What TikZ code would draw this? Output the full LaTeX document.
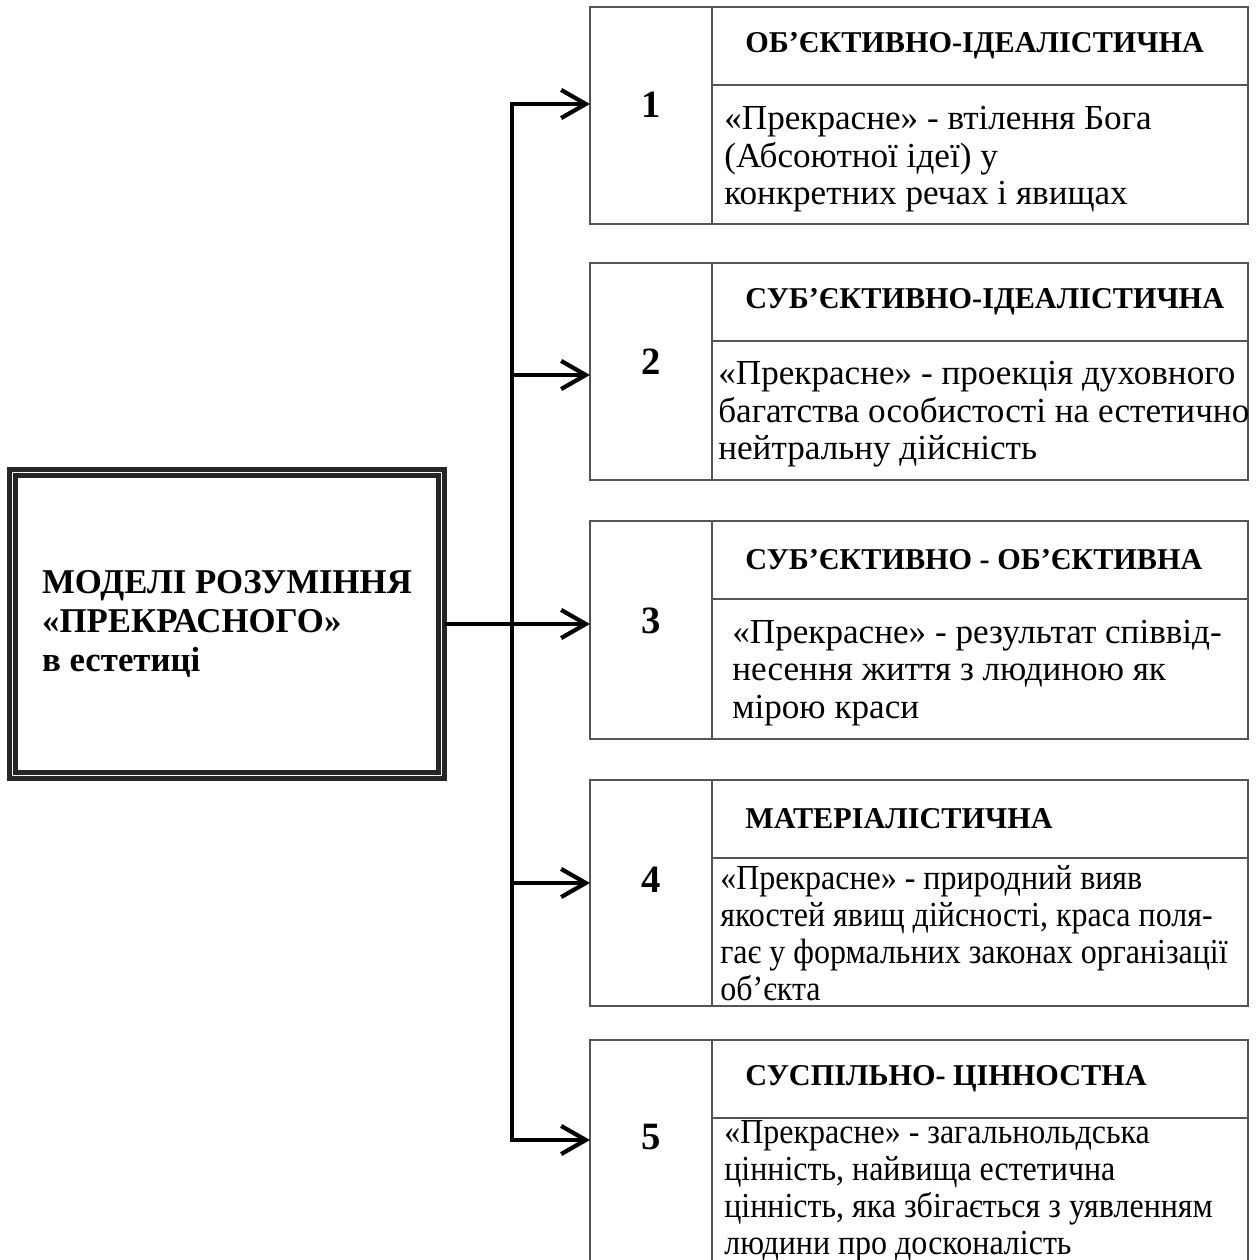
\documentclass[tikz,border=0pt]{standalone}
\usepackage{fontspec}
\setmainfont{Liberation Serif}
\usepackage{tikz}
\usetikzlibrary{arrows.meta,positioning}
\definecolor{boxgray}{RGB}{85,85,85}
\tikzset{
    cell/.style={draw=boxgray,line width=1.1pt,rectangle,inner sep=0pt,outer sep=0pt,anchor=north west},
    numcell/.style={cell,minimum width=2.44cm},
    headcell/.style={cell,minimum width=10.72cm,minimum height=1.56cm},
    bodycell/.style={cell,minimum width=10.72cm},
    numtext/.style={font=\bfseries\fontsize{22}{24}\selectfont,inner sep=0pt},
    headtext/.style={anchor=west,inner sep=0pt,font=\bfseries\fontsize{17.2}{20}\selectfont},
    bodytext/.style={anchor=west,inner sep=0pt,align=left,font=\fontsize{20}{21.3}\selectfont},
    narrowtext/.style={bodytext,font=\fontsize{20}{21}\selectfont\addfontfeatures{FakeStretch=0.91}},
    mainbox/.style={draw=black!85,line width=2.6pt,double=white,double distance=1pt,rectangle,
        minimum width=8.58cm,minimum height=6.06cm,align=left,
        font=\bfseries\fontsize{19.8}{22.1}\selectfont},
    link/.style={line width=2.4pt,black},
    tip/.tip={Straight Barb[length=14pt,width=16pt]}
}

\begin{document}
\begin{tikzpicture}[x=0.02cm,y=-0.02cm]
\useasboundingbox (0,0) rectangle (1258,1260);

% main box
\node[mainbox] (main) at (227,624) {МОДЕЛІ РОЗУМІННЯ\\«ПРЕКРАСНОГО»\\в естетиці};

% box 1
\node[numcell,minimum height=4.34cm] (n1) at (590,7) {};
\node[headcell] (h1) at (n1.north east) {};
\node[bodycell,minimum height=2.78cm] (b1) at (h1.south west) {};
\node[numtext] (k1) at (651,105) {1};
\node[headtext] (t1) at ([xshift=0.66cm]h1.west) {ОБ’ЄКТИВНО-ІДЕАЛІСТИЧНА};
\node[bodytext] (d1) at ([xshift=0.24cm,yshift=-0.1cm]b1.west)
    {«Прекрасне» - втілення Бога\\(Абсоютної ідеї) у\\конкретних речах і явищах};

% box 2
\node[numcell,minimum height=4.34cm] (n2) at (590,263) {};
\node[headcell] (h2) at (n2.north east) {};
\node[bodycell,minimum height=2.78cm] (b2) at (h2.south west) {};
\node[numtext] (k2) at (651,362) {2};
\node[headtext] (t2) at ([xshift=0.66cm]h2.west) {СУБ’ЄКТИВНО-ІДЕАЛІСТИЧНА};
\node[bodytext] (d2) at ([xshift=0.12cm,yshift=-0.08cm]b2.west)
    {«Прекрасне» - проекція духовного\\багатства особистості на естетично\\нейтральну дійсність};

% box 3
\node[numcell,minimum height=4.36cm] (n3) at (590,521) {};
\node[headcell] (h3) at (n3.north east) {};
\node[bodycell,minimum height=2.8cm] (b3) at (h3.south west) {};
\node[numtext] (k3) at (651,621) {3};
\node[headtext] (t3) at ([xshift=0.66cm]h3.west) {СУБ’ЄКТИВНО - ОБ’ЄКТИВНА};
\node[bodytext] (d3) at ([xshift=0.4cm,yshift=-0.08cm]b3.west)
    {«Прекрасне» - результат співвід-\\несення життя з людиною як\\мірою краси};

% box 4
\node[numcell,minimum height=4.52cm] (n4) at (590,780) {};
\node[headcell] (h4) at (n4.north east) {};
\node[bodycell,minimum height=2.96cm] (b4) at (h4.south west) {};
\node[numtext] (k4) at (651,880) {4};
\node[headtext] (t4) at ([xshift=0.66cm]h4.west) {МАТЕРІАЛІСТИЧНА};
\node[narrowtext] (d4) at ([xshift=0.16cm,yshift=-0.02cm]b4.west)
    {«Прекрасне» - природний вияв\\якостей явищ дійсності, краса поля-\\гає у формальних законах організації\\об’єкта};

% box 5
\node[numcell,minimum height=4.46cm] (n5) at (590,1040) {};
\node[headcell] (h5) at (n5.north east) {};
\node[bodycell,minimum height=2.9cm] (b5) at (h5.south west) {};
\node[numtext] (k5) at (651,1137) {5};
\node[headtext] (t5) at ([xshift=0.66cm]h5.west) {СУСПІЛЬНО- ЦІННОСТНА};
\node[narrowtext] (d5) at ([xshift=0.24cm,yshift=-0.02cm]b5.west)
    {«Прекрасне» - загальнольдська\\цінність, найвища естетична\\цінність, яка збігається з уявленням\\людини про досконалість};

% connectors
\coordinate (a1) at (512,104);
\coordinate (a2) at (512,375);
\coordinate (a4) at (512,883);
\coordinate (a5) at (512,1140);
\draw[link,{tip}-{tip}] (a1 -| n1.west) -- (a1) -- (a5) -- (a5 -| n5.west);
\draw[link,-{tip}] (a2) -- (a2 -| n2.west);
\draw[link,-{tip}] (main.east) -- (main.east -| n3.west);
\draw[link,-{tip}] (a4) -- (a4 -| n4.west);
\end{tikzpicture}
\end{document}
